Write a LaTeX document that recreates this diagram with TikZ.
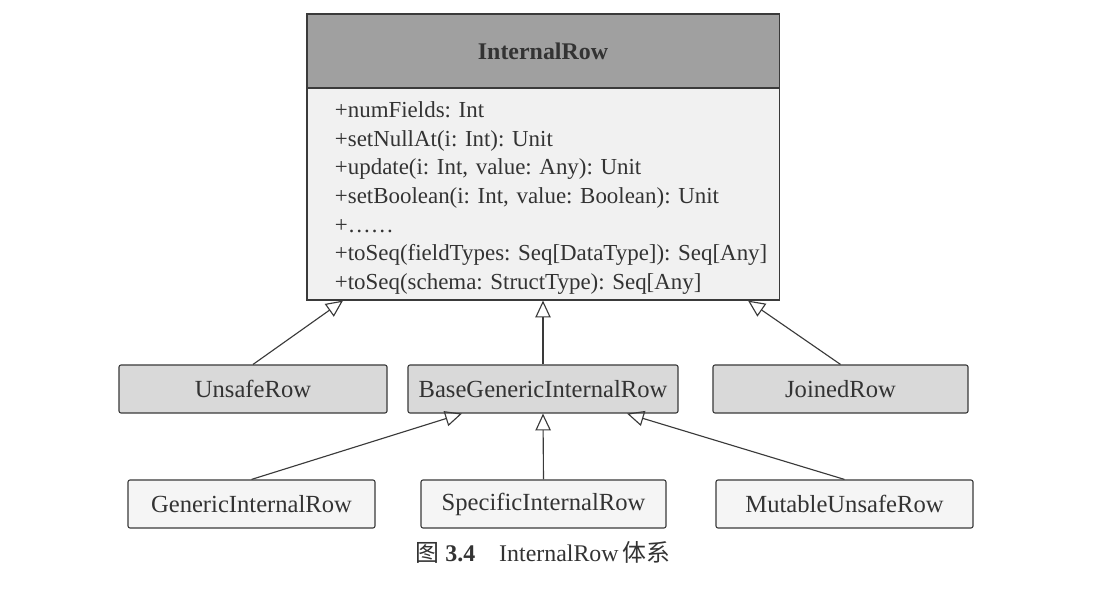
\documentclass[tikz,border=0pt]{standalone}
\usepackage{fontspec}
\setmainfont{Liberation Serif}
\newfontfamily\cjk{Noto Sans CJK SC}
\usepackage{tikz}
\usetikzlibrary{arrows.meta,positioning,calc}
\definecolor{headgray}{HTML}{A0A0A0}
\definecolor{bodygray}{HTML}{F1F1F1}
\definecolor{rowgray}{HTML}{D9D9D9}
\definecolor{leafgray}{HTML}{F5F5F5}
\definecolor{linegray}{HTML}{3A3A3A}
\frenchspacing
\tikzset{every picture/.style={line width=0.8pt}}
\tikzstyle{head}=[draw=linegray,fill=headgray,minimum width=11.8cm,minimum height=1.85cm,inner sep=0pt,font=\fontsize{17}{20}\selectfont\bfseries,text=black!80]
\tikzstyle{body}=[draw=linegray,fill=bodygray,minimum height=5.3cm,text width=11.4cm,inner xsep=0.2cm,inner ysep=0pt,align=left,execute at begin node={\leftskip=0.5cm},font=\fontsize{16.3}{20.4}\selectfont,text=black!80]
\tikzstyle{sub}=[draw=linegray,fill=rowgray,rounded corners=1.5pt,minimum height=1.2cm,inner sep=0pt,font=\fontsize{17.5}{20}\selectfont,text=black!80]
\tikzstyle{leaf}=[draw=linegray,fill=leafgray,rounded corners=1.5pt,minimum height=1.2cm,inner sep=0pt,font=\fontsize{17.5}{20}\selectfont,text=black!80]

\begin{document}
\begin{tikzpicture}[x=0.025cm,y=-0.025cm]
\fill[white] (0,0) rectangle (1120,597);
\node[head] (A) at (543,51) {InternalRow};
\node[body] (B) at (543,194) {\rule{0pt}{17pt}+numFields: Int\\
+setNullAt(i: Int): Unit\\
+update(i: Int, value: Any): Unit\\
+setBoolean(i: Int, value: Boolean): Unit\\
+……\\
+toSeq(fieldTypes: Seq[DataType]): Seq[Any]\\
+toSeq(schema: StructType): Seq[Any]};
\node[sub,minimum width=6.7cm] (C) at (253,389) {UnsafeRow};
\node[sub,minimum width=6.75cm] (D) at (543,389) {BaseGenericInternalRow};
\node[sub,minimum width=6.375cm] (E) at (840.5,389) {JoinedRow};
\node[leaf,minimum width=6.175cm] (F) at (251.5,504) {GenericInternalRow};
\node[leaf,minimum width=6.125cm] (G) at (543.5,504) {SpecificInternalRow};
\node[leaf,minimum width=6.425cm] (H) at (844.5,504) {MutableUnsafeRow};
\node[font=\fontsize{17}{20}\selectfont,text=black!80] (I) at (543,552) {{\cjk 图}\ \textbf{3.4}\quad InternalRow\,{\cjk 体系}};
\coordinate (b1) at ($(B.south)+(-200,0)$);
\coordinate (b2) at ($(B.south)+(205,0)$);
\coordinate (d1) at ($(D.south)+(-81,0)$);
\coordinate (d2) at ($(D.south)+(84,0)$);
\path[->,color=linegray,>={Triangle[open,length=12pt,width=11pt]}]
(C.north) edge (b1)
(D.north) edge (B.south)
(E.north) edge (b2)
(F.north) edge (d1)
(G.north) edge (D.south)
(H.north) edge (d2);
\end{tikzpicture}
\end{document}
